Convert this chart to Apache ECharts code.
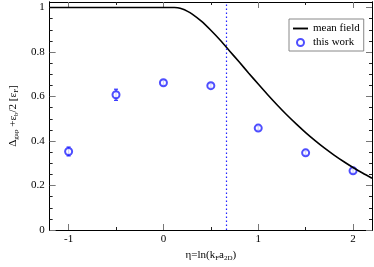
<!DOCTYPE html>
<html><head><meta charset="utf-8">
<script src="https://cdn.jsdelivr.net/npm/echarts@6/dist/echarts.min.js"></script>
<style>html,body{margin:0;padding:0;background:#fff}#c{width:374px;height:267px}</style>
</head><body><div id="c"></div>
<script>
// mean field curve
const mfEta = [-1.2,-1.0,-0.5,0.0,0.1,0.116,0.15,0.2,0.25,0.3,0.4,0.5,0.6,0.7,0.8,0.9,1.0,1.1,1.2,1.3,1.4,1.5,1.6,1.7,1.8,1.9,2.0,2.1,2.2];
const mfVal = [1,1,1,1,1,1,0.999,0.9935,0.984,0.972,0.939,0.898,0.853,0.804,0.755,0.705,0.656,0.608,0.562,0.518,0.477,0.438,0.402,0.368,0.337,0.308,0.281,0.256,0.233];
// this work
const twEta = [-1.0,-0.5,0.0,0.5,1.0,1.5,2.0];
const twVal = [0.353,0.608,0.662,0.649,0.458,0.347,0.266];
const twErr = [0.02,0.025,0.01,0.008,0.008,0.008,0.008];
// vertical dotted marker
const markEta = 0.656;
// ticks
const xMajor = [-1,0,1,2];
const xMinor = [-0.5,0.5,1.5];
const yMajor = [0,0.2,0.4,0.6,0.8,1];
const yMinor = [0.05,0.1,0.15,0.25,0.3,0.35,0.45,0.5,0.55,0.65,0.7,0.75,0.85,0.9,0.95];

const FONT = 'Liberation Serif';
const BLUE = '#2222ff';
const xMin=-1.2, xMax=2.2, yMin=0, yMax=1.025;

function xAx(pos, ticks, len, labels, name){
  return {type:'value', min:xMin, max:xMax, position:pos, gridIndex:0,
    axisLine:{show:true, onZero:false, lineStyle:{color:'#000', width:1}},
    splitLine:{show:false},
    axisTick:{show:true, inside:true, length:len, customValues:ticks, lineStyle:{color:len>4?'#777':'#222', width:1}},
    axisLabel:{show:labels, customValues:ticks, margin:4, color:'#000', fontFamily:FONT, fontSize:11},
    name: name||'', nameLocation:'middle', nameGap:19,
    nameTextStyle:{color:'#000', fontFamily:FONT, fontSize:11,
      rich:{sub:{fontFamily:FONT, fontSize:7, padding:[6,0,0,0], color:'#000'}}}
  };
}
function yAx(pos, ticks, len, labels, name){
  return {type:'value', min:yMin, max:yMax, position:pos, gridIndex:0,
    axisLine:{show:true, onZero:false, lineStyle:{color:'#000', width:1}},
    splitLine:{show:false},
    axisTick:{show:true, inside:true, length:len, customValues:ticks, lineStyle:{color:len>4?'#777':'#222', width:1}},
    axisLabel:{show:labels, customValues:ticks, margin:5, color:'#000', fontFamily:FONT, fontSize:11,
      formatter:v=>String(Math.round(v*10)/10)},
    name: name||'', nameLocation:'middle', nameGap:26,
    nameTextStyle:{color:'#000', fontFamily:FONT, fontSize:11,
      rich:{sub:{fontFamily:FONT, fontSize:7, padding:[6,0,0,0], color:'#000'}}}
  };
}

const chart = echarts.init(document.getElementById('c'), null, {renderer:'canvas'});
chart.setOption({
  animation:false,
  backgroundColor:'#fff',
  grid:{left:41, right:2, top:2, bottom:35, containLabel:false},
  xAxis:[
    xAx('bottom', xMajor, 6, true, 'η=ln(k{sub|F}a{sub|2D})'),
    xAx('bottom', xMinor, 3, false),
    xAx('top', xMajor, 6, false),
    xAx('top', xMinor, 3, false)
  ],
  yAxis:[
    yAx('left', yMajor, 6, true, 'Δ{sub|gap} +ε{sub|b}/2 [ε{sub|F}]'),
    yAx('left', yMinor, 3, false),
    yAx('right', yMajor, 6, false),
    yAx('right', yMinor, 3, false)
  ],
  legend:{
    left:289, top:19, orient:'vertical', itemGap:3, itemWidth:15, itemHeight:7,
    backgroundColor:'#fff', borderColor:'#888', borderWidth:1, borderRadius:0, padding:[4,4,3,4],
    textStyle:{fontFamily:FONT, fontSize:11, color:'#000'},
    data:[{name:'mean field', icon:'path://M0,0L16,0L16,2L0,2Z'}, {name:'this work', icon:'emptyCircle'}]
  },
  series:[
    {name:'mean field', type:'line', xAxisIndex:0, yAxisIndex:0, smooth:0.3, symbol:'none',
     data: mfEta.map((x,i)=>[x, mfVal[i]]),
     lineStyle:{color:'#000', width:1.6}, itemStyle:{color:'#000'},
     markLine:{silent:true, symbol:'none', label:{show:false},
       lineStyle:{color:BLUE, type:[1.5,2.5], width:1.2}, data:[{xAxis:markEta}]}},
    {name:'errbars', type:'custom', xAxisIndex:0, yAxisIndex:0, silent:true,
     data: twEta.map((x,i)=>[x, twVal[i]-twErr[i], twVal[i]+twErr[i]]),
     renderItem:(params, api)=>{
       const lo = api.coord([api.value(0), api.value(1)]);
       const hi = api.coord([api.value(0), api.value(2)]);
       const s = {stroke:BLUE, lineWidth:1.1};
       return {type:'group', children:[
         {type:'line', shape:{x1:lo[0],y1:lo[1],x2:hi[0],y2:hi[1]}, style:s},
         {type:'line', shape:{x1:lo[0]-2,y1:lo[1],x2:lo[0]+2,y2:lo[1]}, style:s},
         {type:'line', shape:{x1:hi[0]-2,y1:hi[1],x2:hi[0]+2,y2:hi[1]}, style:s}
       ]};
     }},
    {name:'this work', type:'scatter', xAxisIndex:0, yAxisIndex:0, symbol:'emptyCircle', symbolSize:7,
     data: twEta.map((x,i)=>[x, twVal[i]]),
     itemStyle:{color:BLUE, borderColor:BLUE, borderWidth:1.4}}
  ]
});
</script></body></html>
